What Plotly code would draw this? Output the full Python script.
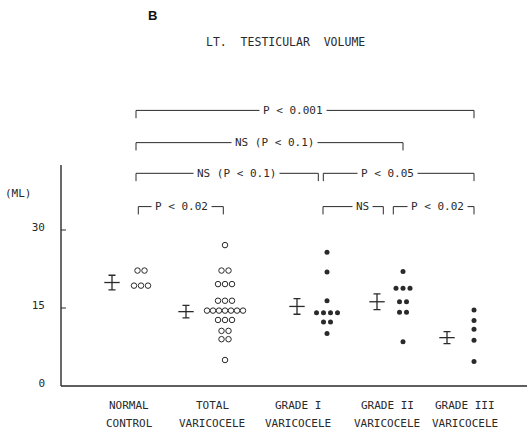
import plotly.graph_objects as go

# ---- data -------------------------------------------------------------
label_top = ["NORMAL", "TOTAL", "GRADE I", "GRADE II", "GRADE III"]
label_bottom = ["CONTROL", "VARICOCELE", "VARICOCELE", "VARICOCELE", "VARICOCELE"]

normal_control = [22.2, 22.2, 19.3, 19.3, 19.3]
total_varicocele = [27.1, 22.2, 22.2, 19.6, 19.6, 19.6, 16.4, 16.4, 16.4,
                    14.5, 14.5, 14.5, 14.5, 14.5, 14.5, 14.5,
                    12.7, 12.7, 12.7, 10.6, 10.6, 9.0, 9.0, 5.0]
grade_1 = [25.7, 21.9, 16.4, 14.1, 14.1, 14.1, 14.1, 12.3, 12.3, 10.1]
grade_2 = [22.0, 18.8, 18.8, 18.8, 16.2, 16.2, 14.2, 14.2, 8.5]
grade_3 = [14.6, 12.6, 10.9, 8.8, 4.7]
groups = [normal_control, total_varicocele, grade_1, grade_2, grade_3]
filled = [False, False, True, True, True]

group_mean = [19.9, 14.3, 15.3, 16.2, 9.3]
group_se = [1.4, 1.2, 1.5, 1.5, 1.15]

y_ticks = [0, 15, 30]

# comparisons: (left group, right group, label, level)
comparisons = [
    (0, 4, "P < 0.001", 0),
    (0, 3, "NS (P < 0.1)", 1),
    (0, 2, "NS (P < 0.1)", 2),
    (2, 4, "P < 0.05", 2),
    (0, 1, "P < 0.02", 3),
    (2, 3, "NS", 3),
    (3, 4, "P < 0.02", 3),
]

# ---- layout of the groups along x (x unit = 1 px) --------------------
DOT_X = [80, 164, 266, 342, 413]
ERR_X = [51, 125, 236, 316, 386]
LABEL_X = [68, 151, 237, 326, 404]
DOT_STEP = 7.0
MAX_ROW = 36.0
# bracket end nudges (px) and label position along each bracket
BRACKET_STYLE = [(-5, 0, 0.464), (-5, 0, 0.52), (-5, -8.7, 0.554),
                 (-3.7, 0, 0.428), (-2.7, -1.7, 0.508), (-4, -19.7, 0.655),
                 (-9.7, 0, 0.55)]
LEVEL_Y = [53.0, 46.8, 40.9, 34.5]
HOOK = 1.5
AXIS_TOP = 42.5
X_END = 466

INK = "#2a2a2a"
MONO = "DejaVu Sans Mono"

fig = go.Figure()

# individual values, stacked side by side when equal
for gi, vals in enumerate(groups):
    xs, ys = [], []
    rows = []
    for v in vals:
        if rows and rows[-1][0] == v:
            rows[-1][1] += 1
        else:
            rows.append([v, 1])
    for v, n in rows:
        step = DOT_STEP if n < 2 else min(DOT_STEP, MAX_ROW / (n - 1))
        for k in range(n):
            xs.append(DOT_X[gi] + (k - (n - 1) / 2) * step)
            ys.append(v)
    fig.add_trace(go.Scatter(
        x=xs, y=ys, mode="markers", showlegend=False, hoverinfo="skip",
        marker=dict(size=5 if filled[gi] else 5.5,
                    color=INK if filled[gi] else "white",
                    symbol="circle",
                    line=dict(color=INK, width=0 if filled[gi] else 1)),
    ))

# mean +/- SE
fig.add_trace(go.Scatter(
    x=ERR_X, y=group_mean, mode="markers", showlegend=False, hoverinfo="skip",
    marker=dict(symbol="line-ew", size=11, line=dict(color=INK, width=1.3)),
    error_y=dict(type="data", array=group_se, visible=True,
                 color=INK, thickness=1.3, width=3.5),
))

shapes = []
# axes
shapes.append(dict(type="line", xref="x", yref="y", x0=0, x1=X_END, y0=0, y1=0,
                   line=dict(color=INK, width=1.4)))
shapes.append(dict(type="line", xref="x", yref="y", x0=0, x1=0, y0=0, y1=AXIS_TOP,
                   line=dict(color=INK, width=1.4)))
for t in y_ticks[1:]:
    shapes.append(dict(type="line", xref="x", yref="y", x0=0, x1=5, y0=t, y1=t,
                       line=dict(color=INK, width=1)))

annotations = []
# significance brackets
for (g0, g1, txt, lvl), (n0, n1, frac) in zip(comparisons, BRACKET_STYLE):
    x0 = DOT_X[g0] + n0
    x1 = DOT_X[g1] + n1
    y = LEVEL_Y[lvl]
    shapes.append(dict(
        type="path", xref="x", yref="y",
        path=f"M {x0},{y - HOOK} L {x0},{y} L {x1},{y} L {x1},{y - HOOK}",
        line=dict(color=INK, width=1)))
    annotations.append(dict(
        x=x0 + frac * (x1 - x0), y=y, xref="x", yref="y", text=txt,
        showarrow=False, bgcolor="white", borderpad=3,
        font=dict(family=MONO, size=11, color=INK), xanchor="center",
        yanchor="middle"))

# group labels under the axis
for gi in range(len(label_top)):
    annotations.append(dict(x=LABEL_X[gi], y=-0.044, xref="x", yref="paper",
                            text=label_top[gi], showarrow=False,
                            font=dict(family=MONO, size=11, color=INK),
                            xanchor="center", yanchor="middle"))
    annotations.append(dict(x=LABEL_X[gi], y=-0.091, xref="x", yref="paper",
                            text=label_bottom[gi], showarrow=False,
                            font=dict(family=MONO, size=11, color=INK),
                            xanchor="center", yanchor="middle"))

annotations.append(dict(x=-0.053, y=37.1, xref="paper", yref="y", text="(ML)",
                        showarrow=False, xanchor="right", yanchor="middle",
                        font=dict(family=MONO, size=11, color=INK)))
annotations.append(dict(x=224, y=66.2, xref="x", yref="y",
                        text="LT.\u00a0\u00a0TESTICULAR\u00a0\u00a0VOLUME",
                        showarrow=False, xanchor="center", yanchor="middle",
                        font=dict(family=MONO, size=11.5, color=INK)))
annotations.append(dict(x=91.5, y=71.3, xref="x", yref="y", text="<b>B</b>",
                        showarrow=False, xanchor="center", yanchor="middle",
                        font=dict(family="Liberation Sans", size=13, color="#111")))

fig.update_layout(
    width=529, height=433,
    margin=dict(l=59, r=0, t=0, b=45),
    paper_bgcolor="white", plot_bgcolor="white",
    shapes=shapes, annotations=annotations,
    xaxis=dict(range=[-2, 468], visible=False, fixedrange=True),
    yaxis=dict(range=[-2 / 5.2, 386 / 5.2], tickvals=y_ticks,
               ticktext=[str(t) for t in y_ticks], ticks="",
               showline=False, showgrid=False, zeroline=False,
               ticklabelstandoff=13, ticklabelshift=-3,
               tickfont=dict(family=MONO, size=11, color=INK)),
)

fig.write_html("out.html")
